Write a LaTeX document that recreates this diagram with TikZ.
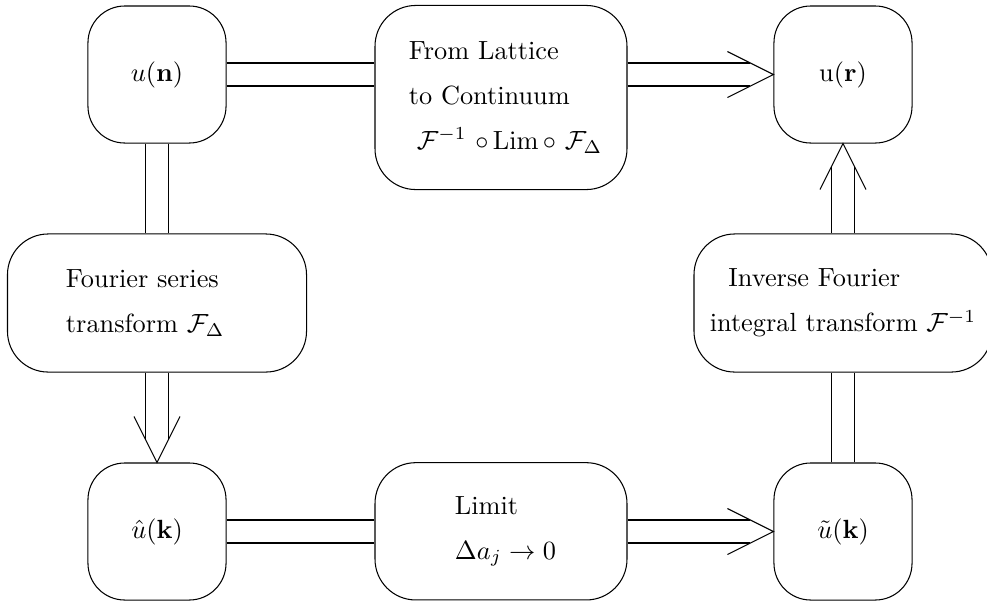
\documentclass[tikz,border=0pt]{standalone}
\usepackage{amsmath}
\usetikzlibrary{calc}
\begin{document}
\begin{tikzpicture}[x=0.3802pt, y=-0.3802pt, line width=0.4pt, line join=miter,
  every node/.style={font=\fontsize{10pt}{17.1pt}\selectfont},
  sbox/.style={draw, rounded corners=14pt, minimum width=52.5pt, minimum height=52.1pt, inner sep=0pt},
  wbox/.style={draw, rounded corners=15.5pt, inner sep=0pt, align=left},
  link/.style={draw},
]
\useasboundingbox (0,0) rectangle (987,603);
\clip (0,0) rectangle (987,603);

% corner quantities
\node[sbox] (un) at (157,74.5)  {$u(\mathbf{n})$};
\node[sbox] (ur) at (843,74.5)  {$\mathrm{u}(\mathbf{r})$};
\node[sbox] (uh) at (157,531.5) {$\hat{u}(\mathbf{k})$};
\node[sbox] (ut) at (843,531.5) {$\tilde{u}(\mathbf{k})$};

% operations
\node[wbox, minimum width=95.8pt, minimum height=70pt, text width=77pt] (lat) at (501,97.5)
  {\hspace*{3.5pt}From Lattice\\\hspace*{3.5pt}to Continuum\\\hspace*{6.5pt}$\mathcal{F}^{-1}\,\circ\mathrm{Lim}\circ\,\mathcal{F}_{\Delta}$};
\node[wbox, minimum width=113.7pt, minimum height=52.5pt, text width=69.2pt] (fs) at (157,303)
  {Fourier series\\transform $\mathcal{F}_{\Delta}$};
\node[wbox, minimum width=113.3pt, minimum height=52.5pt] (inv) at (843,303)
  {\hspace*{7.1pt}Inverse Fourier\\integral transform $\mathcal{F}^{-1}$};
\node[wbox, minimum width=95.8pt, minimum height=52.2pt, text width=45.6pt] (lim) at (501,531.3)
  {\hspace*{5.3pt}Limit\\\hspace*{5.3pt}$\Delta a_j\to 0$};

% u(n) -- lattice box
\draw[link] ($(un.east)+(0,-11.5)$) -- ($(lat.west|-un.east)+(0,-11.5)$);
\draw[link] ($(un.east)+(0,11.5)$)  -- ($(lat.west|-un.east)+(0,11.5)$);
% lattice box => u(r)
\draw[link] ($(lat.east|-ur.west)+(0,-11.5)$) -- ($(ur.west)+(-23,-11.5)$);
\draw[link] ($(lat.east|-ur.west)+(0,11.5)$)  -- ($(ur.west)+(-23,11.5)$);
\draw[link] ($(ur.west)+(-46,-23)$) -- (ur.west) -- ($(ur.west)+(-46,23)$);

% u(n) -- Fourier series box
\draw[link] ($(un.south)+(-11.5,0)$) -- ($(un.south|-fs.north)+(-11.5,0)$);
\draw[link] ($(un.south)+(11.5,0)$)  -- ($(un.south|-fs.north)+(11.5,0)$);
% Fourier series box => hat u(k)
\draw[link] ($(fs.south)+(-11.5,0)$) -- ($(uh.north)+(-11.5,-23)$);
\draw[link] ($(fs.south)+(11.5,0)$)  -- ($(uh.north)+(11.5,-23)$);
\draw[link] ($(uh.north)+(-23,-46)$) -- (uh.north) -- ($(uh.north)+(23,-46)$);

% hat u(k) -- limit box
\draw[link] ($(uh.east)+(0,-11.5)$) -- ($(lim.west|-uh.east)+(0,-11.5)$);
\draw[link] ($(uh.east)+(0,11.5)$)  -- ($(lim.west|-uh.east)+(0,11.5)$);
% limit box => tilde u(k)
\draw[link] ($(lim.east|-ut.west)+(0,-11.5)$) -- ($(ut.west)+(-23,-11.5)$);
\draw[link] ($(lim.east|-ut.west)+(0,11.5)$)  -- ($(ut.west)+(-23,11.5)$);
\draw[link] ($(ut.west)+(-46,-23)$) -- (ut.west) -- ($(ut.west)+(-46,23)$);

% tilde u(k) -- inverse transform box
\draw[link] ($(ut.north)+(-11.5,0)$) -- ($(ut.north|-inv.south)+(-11.5,0)$);
\draw[link] ($(ut.north)+(11.5,0)$)  -- ($(ut.north|-inv.south)+(11.5,0)$);
% inverse transform box => u(r)
\draw[link] ($(inv.north)+(-11.5,0)$) -- ($(ur.south)+(-11.5,23)$);
\draw[link] ($(inv.north)+(11.5,0)$)  -- ($(ur.south)+(11.5,23)$);
\draw[link] ($(ur.south)+(-23,46)$) -- (ur.south) -- ($(ur.south)+(23,46)$);
\end{tikzpicture}
\end{document}
